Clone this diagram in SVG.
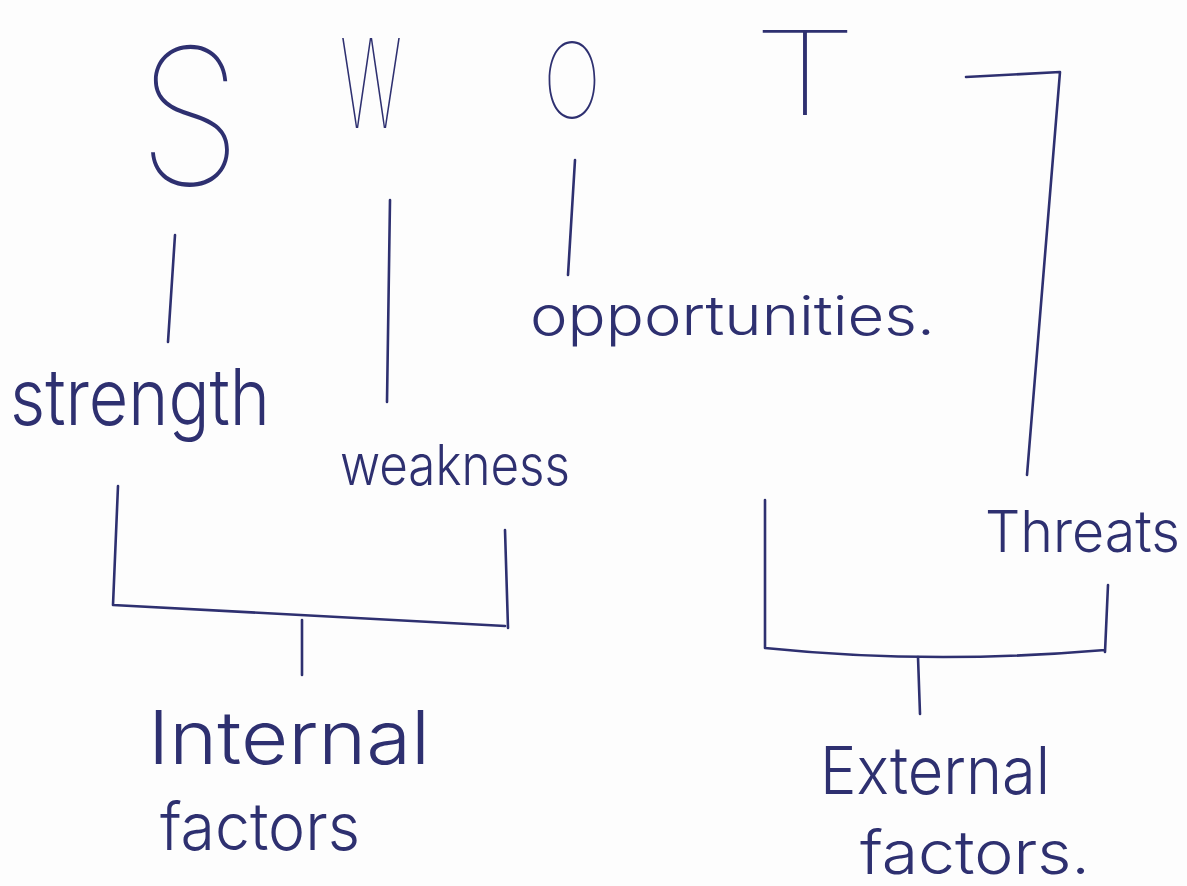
<svg xmlns="http://www.w3.org/2000/svg" width="1187" height="886" viewBox="0 0 1187 886">
<style>
.t{font-family:Inter,"DejaVu Sans",sans-serif;font-weight:300;fill:#2e3070;}
.big{font-weight:100;}
.ln{fill:none;stroke:#2e3070;stroke-width:2.6;stroke-linecap:round;stroke-linejoin:round;}
</style>
<rect x="0" y="0" width="1187" height="886" fill="#fdfdfd"/>
<g id="letters">
<text id="S" class="t big" x="138" y="185" font-size="190" textLength="104" lengthAdjust="spacingAndGlyphs">S</text>
<text id="W" class="t big" x="340" y="128" font-size="124" textLength="62" lengthAdjust="spacingAndGlyphs">W</text>
<text id="O" class="t big" x="543" y="118" font-size="104" textLength="58" lengthAdjust="spacingAndGlyphs">O</text>
<text id="T" class="t big" x="752" y="115" font-size="117" textLength="106" lengthAdjust="spacingAndGlyphs">T</text>
</g>
<g id="connectors">
<path class="ln" d="M175,235 L168,342"/>
<path class="ln" d="M390,200 L387,402"/>
<path class="ln" d="M575,160 L568,275"/>
<path class="ln" d="M966,77 L1060,72 L1027,475"/>
<path class="ln" d="M118,486 L113,605 L505,626 M505,530 L508,628"/>
<path class="ln" d="M302,620 L302,675"/>
<path class="ln" d="M765,500 L765,648 Q930,665 1105,650 M1108,585 L1105,652"/>
<path class="ln" d="M918,657 L920,714"/>
</g>
<g id="strength"><text class="t" x="10" y="425" font-size="78" textLength="260" lengthAdjust="spacingAndGlyphs">strength</text></g>
<g id="weakness"><text class="t" x="340" y="485" font-size="56" textLength="230" lengthAdjust="spacingAndGlyphs">weakness</text></g>
<g id="opportunities"><text class="t" x="530" y="335" font-size="54" textLength="405" lengthAdjust="spacingAndGlyphs">opportunities.</text></g>
<g id="threats"><text class="t" x="985" y="552" font-size="58" textLength="195" lengthAdjust="spacingAndGlyphs">Threats</text></g>
<g id="internal">
<text class="t" x="148" y="764" font-size="74" textLength="282" lengthAdjust="spacingAndGlyphs">Internal</text>
<text class="t" x="160" y="850" font-size="66" textLength="200" lengthAdjust="spacingAndGlyphs">factors</text>
</g>
<g id="external">
<text class="t" x="820" y="794" font-size="66" textLength="230" lengthAdjust="spacingAndGlyphs">External</text>
<text class="t" x="860" y="874" font-size="60" textLength="230" lengthAdjust="spacingAndGlyphs">factors.</text>
</g>
</svg>
